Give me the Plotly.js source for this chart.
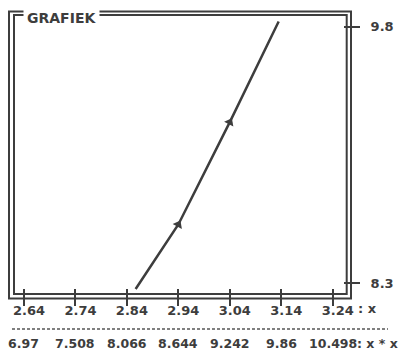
<!DOCTYPE html>
<html>
<head>
<meta charset="utf-8">
<script src="https://cdn.plot.ly/plotly-3.0.1.min.js"></script>
<style>html,body{margin:0;padding:0;background:#fff;}#chart{width:416px;height:352px;}</style>
</head>
<body>
<div id="chart"></div>
<script>
// ---- data ----
var xValues = [2.64, 2.74, 2.84, 2.94, 3.04, 3.14, 3.24];
var xLabels = ['2.64', '2.74', '2.84', '2.94', '3.04', '3.14', '3.24'];
var squareLabels = ['6.97', '7.508', '8.066', '8.644', '9.242', '9.86', '10.498'];
var yTickValues = [8.3, 9.8];
var yTickLabels = ['8.3', '9.8'];
var curveX = [2.857, 2.94, 3.04, 3.135];
var curveY = [8.267, 8.644, 9.242, 9.83];
var arrowX = [2.94, 3.04];
var arrowY = [8.644, 9.242];
var titleText = 'GRAFIEK';
var xRowName = ': x';
var squareRowName = ': x * x';

// ---- layout helpers (pixel -> paper) ----
var W = 416, H = 352;
var mL = 14, mR = 69, mT = 15, mB = 58;
var pw = W - mL - mR, ph = H - mT - mB;
function px(x) { return (x - mL) / pw; }
function py(y) { return (H - mB - y) / ph; }

var ink = '#3d3d3d';
var font = {family: 'DejaVu Sans', size: 13, color: ink, weight: 'bold'};
var font2 = {family: 'DejaVu Sans', size: 12.5, color: ink, weight: 'bold'};

var traces = [
  {x: curveX, y: curveY, type: 'scatter', mode: 'lines',
   line: {color: ink, width: 2.5}, hoverinfo: 'skip', cliponaxis: false},
  {x: arrowX, y: arrowY, type: 'scatter', mode: 'markers',
   marker: {symbol: 'triangle-up', size: 9, angle: 28, color: ink}, hoverinfo: 'skip'}
];

var annotations = [
  {text: titleText, xref: 'paper', yref: 'paper', x: px(23), y: py(18),
   xanchor: 'left', yanchor: 'middle', showarrow: false, bgcolor: '#ffffff',
   borderpad: 3, font: {family: 'DejaVu Sans', size: 14, color: ink, weight: 'bold'}},
  {text: xRowName, xref: 'paper', yref: 'paper', x: px(356), y: py(308),
   xanchor: 'left', yanchor: 'middle', showarrow: false, font: font},
  {text: squareRowName, xref: 'paper', yref: 'paper', x: px(355), y: py(343),
   xanchor: 'left', yanchor: 'middle', showarrow: false, font: font2}
];
for (var i = 0; i < xValues.length; i++) {
  annotations.push({text: squareLabels[i], xref: 'x', yref: 'paper', x: xValues[i],
    y: py(343), xanchor: 'center', yanchor: 'middle', showarrow: false, font: font2});
}

var shapes = [
  {type: 'rect', xref: 'paper', yref: 'paper', x0: px(14), x1: px(346.7), y0: py(294), y1: py(15),
   line: {color: ink, width: 2}, layer: 'below'},
  {type: 'rect', xref: 'paper', yref: 'paper', x0: px(9), x1: px(351), y0: py(298.5), y1: py(11.5),
   line: {color: ink, width: 2}, layer: 'below'},
  {type: 'line', xref: 'paper', yref: 'paper', x0: px(12), x1: px(388), y0: py(329), y1: py(329),
   line: {color: '#555555', width: 1.5, dash: '3px,2px'}}
];

var layout = {
  width: W, height: H,
  margin: {l: mL, r: mR, t: mT, b: mB, pad: 0},
  paper_bgcolor: '#ffffff', plot_bgcolor: 'rgba(0,0,0,0)',
  showlegend: false,
  font: font,
  xaxis: {range: [2.6206, 3.2678], anchor: 'free', position: py(288),
          tickmode: 'array', tickvals: xValues, ticktext: xLabels,
          ticks: 'outside', ticklen: 17, tickwidth: 2, tickcolor: ink,
          ticklabelshift: 5, ticklabelstandoff: -7,
          showline: false, showgrid: false, zeroline: false, tickfont: font, fixedrange: true},
  yaxis: {range: [8.2375, 9.8684], side: 'right', anchor: 'free', position: px(343),
          tickmode: 'array', tickvals: yTickValues, ticktext: yTickLabels,
          ticks: 'outside', ticklen: 16, tickwidth: 2, tickcolor: ink,
          ticklabelstandoff: 8,
          showline: false, showgrid: false, zeroline: false, tickfont: font, fixedrange: true},
  shapes: shapes,
  annotations: annotations
};

Plotly.newPlot('chart', traces, layout, {staticPlot: true, displayModeBar: false});
</script>
</body>
</html>
